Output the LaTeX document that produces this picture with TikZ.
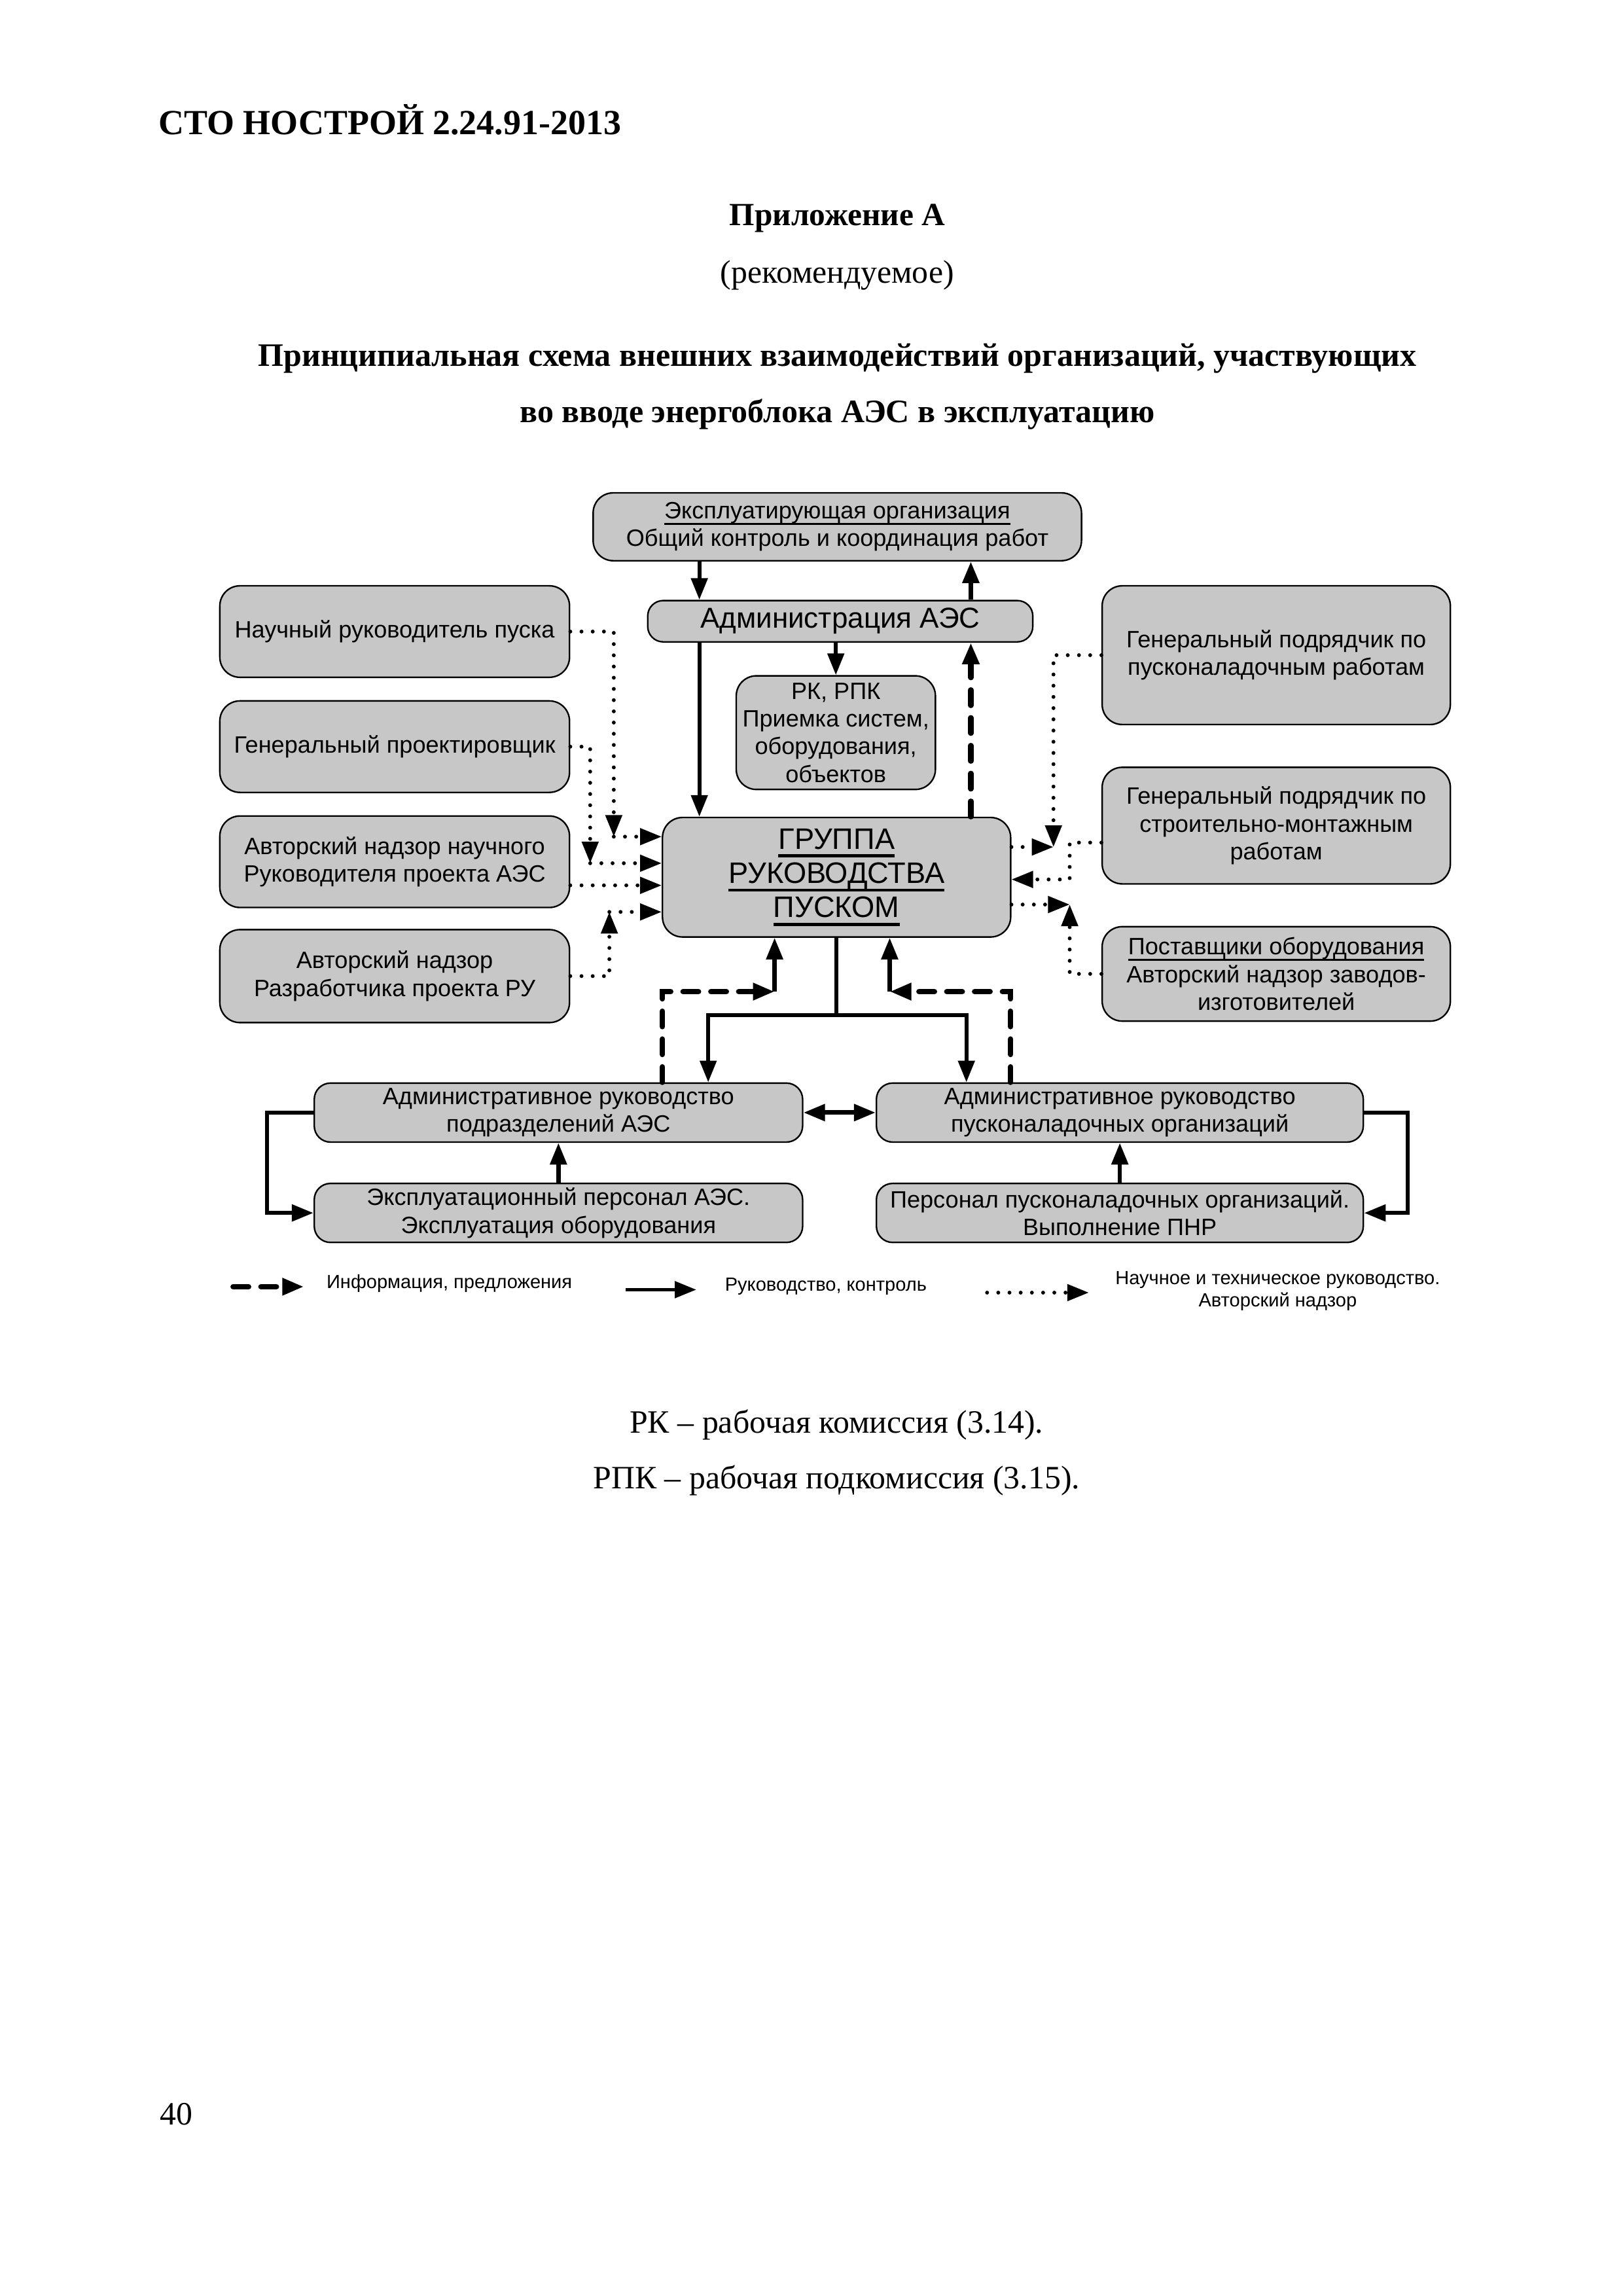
\documentclass[tikz,border=0pt]{standalone}
\usepackage{fontspec}
\setmainfont{Liberation Serif}
\setsansfont{Liberation Sans}
\usetikzlibrary{arrows.meta}
\newlength\unitpx
\setlength\unitpx{0.190909mm}
\newcommand\myuline[3]{\setbox0=\hbox{#3}\leavevmode\rlap{\vrule height -#1 depth \dimexpr#1+#2\relax width \wd0}\box0}
\begin{document}
\begin{tikzpicture}[x=\unitpx, y=-\unitpx,
  box/.style={draw=black, line width=0.2mm, fill=black!22, rounded corners=2.6mm, align=center, inner sep=0pt,
    font=\sffamily\fontsize{8.7}{10.2}\selectfont},
  ctl/.style={line width=0.5mm},
  arr/.style={-{Triangle[length=2.8mm,width=2.1mm]}},
  info/.style={line width=0.7mm, line cap=round, dash pattern=on 2mm off 1.6mm},
  sci/.style={line width=0.5mm, line cap=round, dash pattern=on 0pt off 1.45mm},
  txt/.style={inner sep=0pt, font=\fontsize{12}{14.4}\selectfont},
  lgd/.style={inner sep=0pt, font=\sffamily\fontsize{7}{8.2}\selectfont}]
\fill[white] (0,0) rectangle (1100,1556);
\useasboundingbox (0,0) rectangle (1100,1556);

% page texts
\node[txt, anchor=base west, font=\bfseries\fontsize{13}{15}\selectfont] (hdr) at (107,91) {СТО НОСТРОЙ 2.24.91-2013};
\node[txt, anchor=base, font=\bfseries\fontsize{11.9}{14.4}\selectfont] (app) at (567.5,153) {Приложение А};
\node[txt, anchor=base] (rec) at (567.5,192) {(рекомендуемое)};
\node[txt, anchor=base, font=\bfseries\fontsize{12.05}{14.4}\selectfont] (ttl1) at (567.5,248) {Принципиальная схема внешних взаимодействий организаций, участвующих};
\node[txt, anchor=base, font=\bfseries\fontsize{12.05}{14.4}\selectfont] (ttl2) at (567.5,286.5) {во вводе энергоблока АЭС в эксплуатацию};
\node[txt, anchor=base] (fn1) at (567,971) {РК – рабочая комиссия (3.14).};
\node[txt, anchor=base] (fn2) at (567,1009) {РПК – рабочая подкомиссия (3.15).};
\node[txt, anchor=base west] (pg) at (108,1440) {40};

% central boxes
\node[box, minimum width=331\unitpx, minimum height=46\unitpx] (top) at (567.5,357)
  {\myuline{1.6pt}{0.6pt}{Эксплуатирующая организация}\\Общий контроль и координация работ};
\node[box, rounded corners=2mm, font=\sffamily\fontsize{10.6}{12}\selectfont, minimum width=261\unitpx, minimum height=28\unitpx] (adm) at (569.5,421) {Администрация АЭС};
\node[box, minimum width=135\unitpx, minimum height=77\unitpx] (rk) at (566.5,496.5) {РК, РПК\\Приемка систем,\\оборудования,\\объектов};
\node[box, font=\sffamily\fontsize{10.9}{12.6}\selectfont, minimum width=236\unitpx, minimum height=81\unitpx] (grp) at (567,594.5)
  {\myuline{2pt}{1.1pt}{ГРУППА}\\\myuline{2pt}{1.1pt}{РУКОВОДСТВА}\\\myuline{2pt}{1.1pt}{ПУСКОМ}};

% left boxes
\node[box, minimum width=237\unitpx, minimum height=62\unitpx] (L1) at (267.5,428) {Научный руководитель пуска};
\node[box, minimum width=237\unitpx, minimum height=62\unitpx] (L2) at (267.5,506) {Генеральный проектировщик};
\node[box, minimum width=237\unitpx, minimum height=62\unitpx] (L3) at (267.5,584) {Авторский надзор научного\\Руководителя проекта АЭС};
\node[box, minimum width=237\unitpx, minimum height=63\unitpx] (L4) at (267.5,661.5) {Авторский надзор\\Разработчика проекта РУ};

% right boxes
\node[box, minimum width=236\unitpx, minimum height=94\unitpx] (R1) at (865,444) {Генеральный подрядчик по\\пусконаладочным работам};
\node[box, minimum width=236\unitpx, minimum height=79\unitpx] (R2) at (865,559.5) {Генеральный подрядчик по\\строительно-монтажным\\работам};
\node[box, minimum width=236\unitpx, minimum height=64\unitpx] (R3) at (865,660)
  {\myuline{1.6pt}{0.6pt}{Поставщики оборудования}\\Авторский надзор заводов-\\изготовителей};

% bottom boxes
\node[box, rounded corners=2.1mm, minimum width=331\unitpx, minimum height=40\unitpx] (BL1) at (378.5,754) {Административное руководство\\подразделений АЭС};
\node[box, rounded corners=2.1mm, minimum width=330\unitpx, minimum height=40\unitpx] (BR1) at (759,754) {Административное руководство\\пусконаладочных организаций};
\node[box, rounded corners=2.1mm, minimum width=331\unitpx, minimum height=40\unitpx] (BL2) at (378.5,822) {Эксплуатационный персонал АЭС.\\Эксплуатация оборудования};
\node[box, rounded corners=2.1mm, minimum width=330\unitpx, minimum height=40\unitpx] (BR2) at (759,822) {Персонал пусконаладочных организаций.\\Выполнение ПНР};

% top connectors
\coordinate (xa) at (474,0);
\coordinate (xb) at (658,0);
\draw[ctl,arr] (top.south -| xa) -- (adm.north -| xa);
\draw[ctl,arr,line width=0.6mm] (adm.north -| xb) -- (top.south -| xb);
\draw[ctl,arr] (adm.south -| rk.north) -- (rk.north);
\draw[ctl,arr] (adm.south -| xa) -- (grp.north -| xa);
\draw[info,arr] (grp.north -| xb) -- (adm.south -| xb);

% bottom connectors
\coordinate (j) at (567,688);
\coordinate (xl) at (480,0);
\coordinate (xr) at (655,0);
\draw[ctl] (grp.south) -- (j);
\draw[ctl,arr] (j) -| (BL1.north -| xl);
\draw[ctl,arr] (j) -| (BR1.north -| xr);
\coordinate (cl) at (525,672);
\coordinate (dl) at (449,0);
\draw[info,arr] (BL1.north -| dl) |- (cl);
\draw[ctl,arr,line width=0.55mm] (cl) -- (grp.south -| cl);
\coordinate (cr) at (603,672);
\coordinate (dr) at (685,0);
\draw[info,arr] (BR1.north -| dr) |- (cr);
\draw[ctl,arr,line width=0.55mm] (cr) -- (grp.south -| cr);
\draw[ctl,line width=0.6mm,{Triangle[length=2.8mm,width=2.1mm]}-{Triangle[length=2.8mm,width=2.1mm]}] (BL1.east) -- (BR1.west);
\coordinate (lx) at (181,0);
\coordinate (rx) at (954,0);
\draw[ctl,arr,line width=0.55mm] (BL1.west) -- (BL1.west -| lx) -- (BL2.west -| lx) -- (BL2.west);
\draw[ctl,arr,line width=0.55mm] (BR1.east) -- (BR1.east -| rx) -- (BR2.east -| rx) -- (BR2.east);
\draw[ctl,arr,line width=0.55mm] (BL2.north) -- (BL1.south);
\draw[ctl,arr,line width=0.55mm] (BR2.north) -- (BR1.south);

% dotted connectors, left
\coordinate (c1) at (416,567);
\draw[sci,arr] (L1.east) -| (c1);
\draw[sci,arr] (c1) -- (grp.west |- c1);
\coordinate (c2) at (400,585);
\draw[sci,arr] (L2.east) -| (c2);
\draw[sci,arr] (c2) -- (grp.west |- c2);
\coordinate (c3) at (420,600);
\draw[sci,arr] (L3.east |- c3) -- (grp.west |- c3);
\coordinate (c4) at (413,618);
\draw[sci,arr] (L4.east) -| (c4);
\draw[sci,arr] (c4) -- (grp.west |- c4);

% dotted connectors, right
\coordinate (d1) at (714,574);
\draw[sci,arr] (R1.west) -| (d1);
\draw[sci,arr] (grp.east |- d1) -- (d1);
\coordinate (d2a) at (725,571);
\coordinate (d2b) at (725,596);
\draw[sci,arr] (R2.west |- d2a) -- (d2a) -- (d2b) -- (grp.east |- d2b);
\coordinate (d3) at (725,613);
\draw[sci,arr] (R3.west) -| (d3);
\draw[sci,arr] (grp.east |- d3) -- (d3);

% legend
\coordinate (la1) at (158,872);
\coordinate (la2) at (206,872);
\draw[info,arr] (la1) -- (la2);
\node[lgd, anchor=west] (lt1) at (221,870) {Информация, предложения};
\coordinate (lb1) at (424,874);
\coordinate (lb2) at (472,874);
\draw[ctl,arr] (lb1) -- (lb2);
\node[lgd, anchor=west] (lt2) at (491,872) {Руководство, контроль};
\coordinate (lc1) at (669,876);
\coordinate (lc2) at (738,876);
\draw[sci,arr] (lc1) -- (lc2);
\node[lgd, align=center] (lt3) at (866,875) {Научное и техническое руководство.\\Авторский надзор};
\end{tikzpicture}
\end{document}
